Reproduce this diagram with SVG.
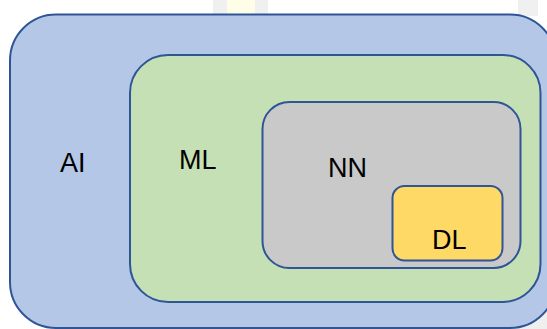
<svg xmlns="http://www.w3.org/2000/svg" width="547" height="329" viewBox="0 0 547 329">
<style>
.box{stroke:#2f5597;stroke-width:2}
.lbl{font-family:"Liberation Sans",Arial,sans-serif;font-size:27px;fill:#000}
</style>
<rect x="0" y="0" width="547" height="329" fill="#ffffff"/>
<rect x="213" y="0" width="55" height="16" fill="#f0f0f0"/>
<rect x="227" y="0" width="28" height="16" fill="#fdfde8"/>
<rect x="518" y="0" width="20" height="16" fill="#f0f0f0"/>
<rect x="500" y="295" width="47" height="34" fill="#efefef"/>
<g id="AI">
<rect class="box" x="10" y="14.5" width="546" height="313.5" rx="46" ry="46" fill="#b4c7e7"/>
<text class="lbl" x="60" y="171.5">AI</text>
</g>
<g id="ML">
<rect class="box" x="130" y="55" width="410.5" height="247" rx="38" ry="38" fill="#c5e0b4"/>
<text class="lbl" x="179" y="168.5">ML</text>
</g>
<g id="NN">
<rect class="box" x="262.5" y="102" width="258" height="166" rx="27" ry="27" fill="#c9c9c9"/>
<text class="lbl" x="328" y="176.5">NN</text>
</g>
<g id="DL">
<rect class="box" x="392.5" y="186" width="110" height="74.5" rx="12" ry="12" fill="#ffd966"/>
<text class="lbl" x="432" y="248.5">DL</text>
</g>
<g id="connectors"></g>
</svg>
